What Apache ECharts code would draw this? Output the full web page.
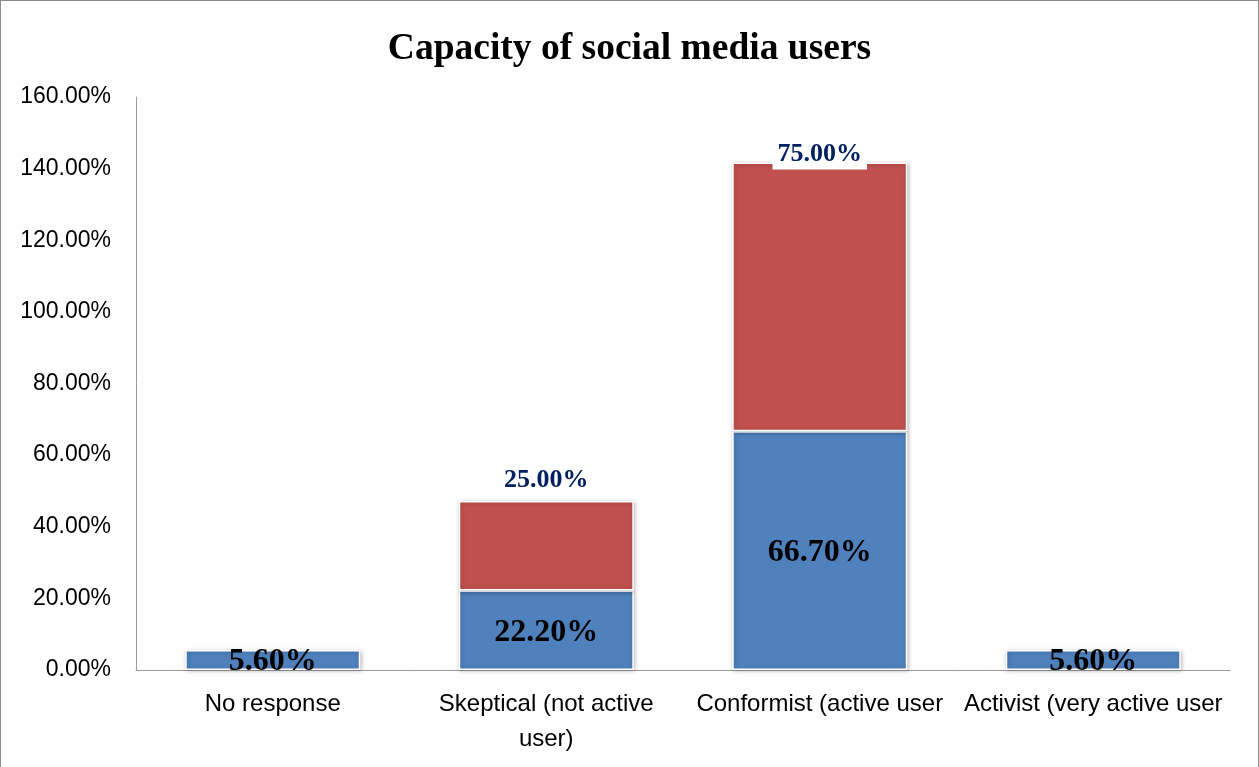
<!DOCTYPE html>
<html>
<head>
<meta charset="utf-8">
<script src="https://cdn.jsdelivr.net/npm/echarts@6/dist/echarts.min.js"></script>
<style>
html,body{margin:0;padding:0;background:#fff;}
#c{position:absolute;left:0;top:0;width:1257px;height:766px;border:1px solid #8c8c8c;border-bottom:none;}
</style>
</head>
<body>
<div id="c"></div>
<script>
var categories = ['No response', 'Skeptical (not active\nuser)', 'Conformist (active user', 'Activist (very active user'];
var blueValues = [5.6, 22.2, 66.7, 5.6];
var redValues = [null, 25.0, 75.0, null];
var yTicks = [0, 20, 40, 60, 80, 100, 120, 140, 160];

var redData = redValues.map(function (v, i) {
  if (i === 2) { return {value: v, label: {offset: [0, 13]}}; }
  return v;
});

var chart = echarts.init(document.getElementById('c'));
chart.setOption({
  animation: false,
  backgroundColor: '#fff',
  title: {
    text: 'Capacity of social media users',
    left: 'center',
    top: 24,
    textStyle: {fontFamily: 'Liberation Serif', fontWeight: 'bold', fontSize: 37.5, color: '#000'}
  },
  grid: {left: 135, right: 28, top: 96, bottom: 97, containLabel: false},
  xAxis: {
    type: 'category',
    data: categories,
    axisLine: {lineStyle: {color: '#9a9a9a', width: 1}},
    axisTick: {show: false},
    axisLabel: {fontFamily: 'Liberation Sans', fontSize: 24, color: '#000', lineHeight: 35, margin: 17, interval: 0}
  },
  yAxis: {
    type: 'value',
    min: yTicks[0], max: yTicks[yTicks.length - 1], interval: 20,
    axisLine: {show: true, lineStyle: {color: '#9a9a9a', width: 1}},
    axisTick: {show: false},
    splitLine: {show: false},
    axisLabel: {fontFamily: 'Liberation Sans', fontSize: 23, color: '#000', margin: 25,
      formatter: function (v) { return v.toFixed(2) + '%'; }}
  },
  series: [
    {
      type: 'bar', stack: 'a', data: blueValues, barWidth: '64%',
      itemStyle: {color: '#4F81BD', borderColor: '#ffffff', borderWidth: 1.5,
        shadowColor: 'rgba(0,0,0,0.25)', shadowBlur: 4, shadowOffsetX: 1, shadowOffsetY: 1},
      label: {show: true, position: 'inside', offset: [0, 2], fontFamily: 'Liberation Serif', fontWeight: 'bold', fontSize: 32, color: '#000',
        formatter: function (p) { return p.value.toFixed(2) + '%'; }}
    },
    {
      type: 'bar', stack: 'a', data: redData, barWidth: '64%',
      itemStyle: {color: '#C0504D', borderColor: '#ffffff', borderWidth: 1.5,
        shadowColor: 'rgba(0,0,0,0.25)', shadowBlur: 4, shadowOffsetX: 1, shadowOffsetY: 1},
      label: {show: true, position: 'top', distance: 6, fontFamily: 'Liberation Serif', fontWeight: 'bold', fontSize: 26, color: '#002060',
        backgroundColor: '#fff', padding: [2, 5, 2, 5],
        formatter: function (p) { return p.value == null ? '' : p.value.toFixed(2) + '%'; }}
    }
  ]
});
</script>
</body>
</html>
